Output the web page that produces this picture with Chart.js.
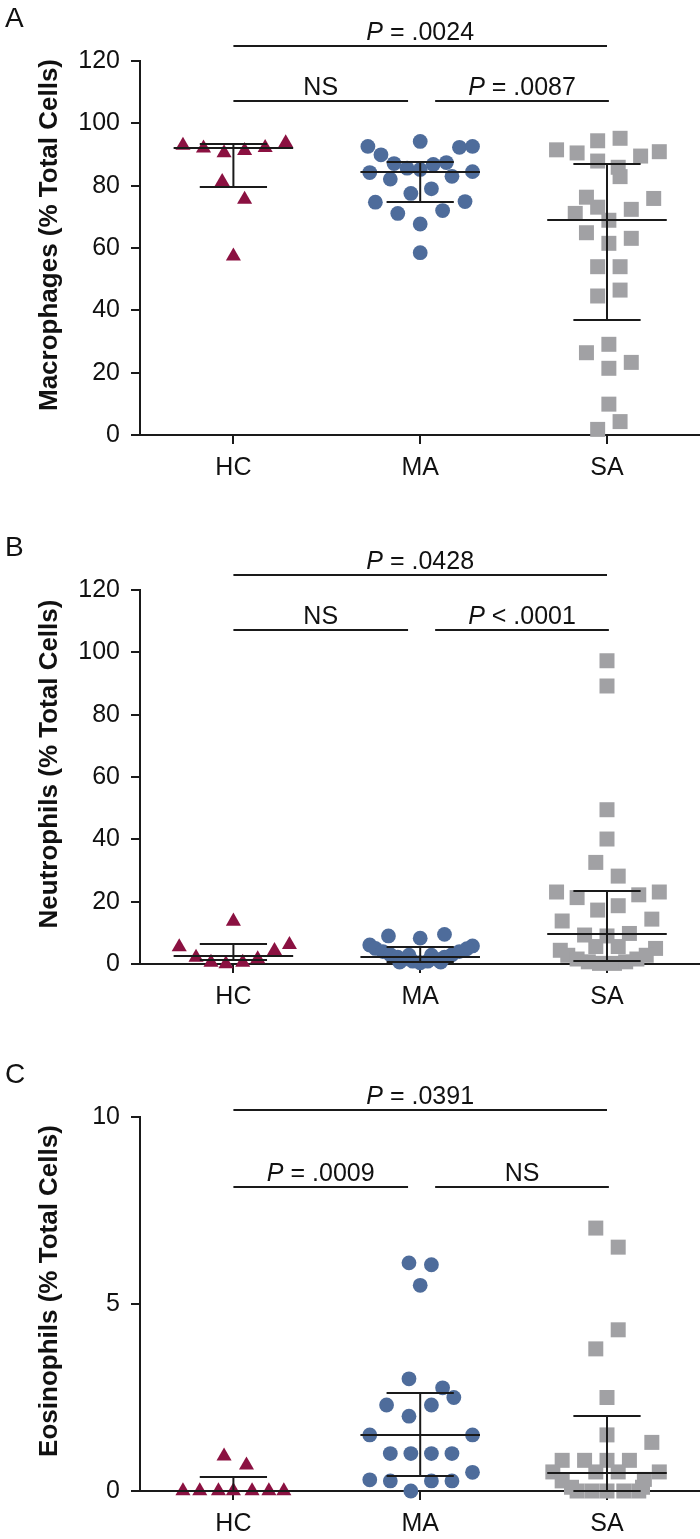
<!DOCTYPE html>
<html>
<head>
<meta charset="utf-8">
<script src="https://cdn.jsdelivr.net/npm/chart.js@4.4.1/dist/chart.umd.min.js"></script>
<style>
html, body { margin: 0; padding: 0; background: #fff; overflow: hidden; }
canvas { position: absolute; left: 0; }
</style>
</head>
<body>
<canvas id="chartA" width="711" height="513" style="top:0px"></canvas>
<canvas id="chartB" width="711" height="513" style="top:529px"></canvas>
<canvas id="chartC" width="711" height="513" style="top:1056px"></canvas>
<script>
const groups = ['HC', 'MA', 'SA'];

// A - macrophages
const macroHC = [92.9, 92.0, 90.5, 91.2, 92.2, 93.7, 81.3, 75.6, 57.4];
const macroHCJit = [-0.27, -0.16, -0.05, 0.06, 0.17, 0.28, -0.06, 0.06, 0.0];
const macroMA = [92.6, 94.2, 92.3, 92.6, 89.9, 87.1, 85.6, 85.2, 86.8, 87.4, 84.2, 84.5, 82.1, 83.0, 79.0, 77.5, 74.7, 74.9, 71.1, 72.0, 67.7, 58.5];
const macroMAJit = [-0.28, 0.0, 0.21, 0.28, -0.21, -0.14, -0.07, 0.0, 0.07, 0.14, -0.27, 0.28, -0.16, 0.17, 0.06, -0.05, -0.24, 0.24, -0.12, 0.12, 0.0, 0.0];
const macroSA = [91.5, 90.5, 94.4, 95.2, 89.5, 90.9, 87.9, 85.9, 82.9, 76.3, 75.9, 73.1, 71.1, 72.4, 68.9, 64.9, 63.1, 61.5, 54.0, 54.0, 44.6, 46.5, 26.4, 29.1, 21.4, 23.3, 9.9, 4.3, 1.8];
const macroSAJit = [-0.27, -0.16, -0.05, 0.07, 0.18, 0.28, -0.05, 0.06, 0.07, -0.11, 0.25, -0.05, -0.17, 0.13, 0.01, -0.11, 0.13, 0.01, -0.05, 0.07, -0.05, 0.07, -0.11, 0.01, 0.01, 0.13, 0.01, 0.07, -0.05];
const macroQ1 = [79.5, 74.9, 36.9];
const macroMed = [92.1, 84.3, 69.0];
const macroQ3 = [93.4, 87.5, 87.0];
const macroTicks = [0, 20, 40, 60, 80, 100, 120];
const macroBrackets = [
    { from: 1, to: 3, level: 124.8, label: 'P = .0024' },
    { from: 1, to: 1.935, level: 107.2, label: 'NS' },
    { from: 2.08, to: 3.01, level: 107.2, label: 'P = .0087' }
];

// B - neutrophils
const neutroHC = [5.5, 13.7, 6.2, 4.3, 2.1, 0.5, 0.0, 0.5, 1.6];
const neutroHCJit = [-0.29, 0.0, 0.3, 0.22, -0.2, -0.12, -0.04, 0.05, 0.13];
const neutroMA = [9.0, 8.3, 9.5, 6.1, 5.8, 5.0, 4.0, 3.0, 2.2, 1.5, 0.9, 0.4, 0.9, 1.5, 2.2, 3.0, 4.0, 4.9, 2.8, 2.8, 0.6, 0.6];
const neutroMAJit = [-0.17, 0.0, 0.13, -0.27, 0.28, -0.24, -0.2, -0.16, -0.12, -0.09, -0.04, 0.0, 0.04, 0.09, 0.13, 0.17, 0.21, 0.25, -0.06, 0.06, -0.11, 0.11];
const neutroSA = [97.3, 89.2, 49.5, 40.1, 32.6, 28.2, 23.1, 21.3, 22.2, 23.1, 17.3, 18.7, 13.8, 14.4, 9.3, 9.0, 9.8, 4.4, 5.0, 5.6, 5.6, 2.8, 1.6, 0.7, 0.2, 0.2, 0.7, 1.6, 2.8];
const neutroSAJit = [0.0, 0.0, 0.0, 0.0, -0.06, 0.06, -0.27, -0.16, 0.17, 0.28, -0.05, 0.06, -0.24, 0.24, -0.12, 0.0, 0.12, -0.25, 0.26, -0.06, 0.06, -0.21, -0.16, -0.1, -0.04, 0.04, 0.1, 0.16, 0.21];
const neutroQ1 = [1.2, 0.7, 1.0];
const neutroMed = [2.7, 2.3, 9.5];
const neutroQ3 = [6.5, 5.6, 23.3];
const neutroTicks = [0, 20, 40, 60, 80, 100, 120];
const neutroBrackets = [
    { from: 1, to: 3, level: 124.8, label: 'P = .0428' },
    { from: 1, to: 1.935, level: 107.1, label: 'NS' },
    { from: 2.08, to: 3.01, level: 107.1, label: 'P < .0001' }
];

// C - eosinophils
const eosHC = [0, 0, 0, 0, 0, 0, 0, 0.93, 0.69];
const eosHCJit = [-0.27, -0.18, -0.08, 0.0, 0.1, 0.19, 0.27, -0.05, 0.07];
const eosMA = [5.5, 6.1, 6.05, 3.0, 2.76, 2.5, 2.3, 2.3, 2.0, 1.5, 1.5, 1.0, 1.0, 1.0, 1.0, 0.5, 0.3, 0.27, 0.27, 0.27, 0.0];
const eosMAJit = [0.0, -0.06, 0.06, -0.06, 0.12, 0.18, -0.18, 0.06, -0.06, -0.27, 0.28, -0.16, -0.05, 0.06, 0.17, 0.28, -0.27, -0.16, 0.06, 0.17, -0.05];
const eosSA = [7.03, 6.52, 4.31, 3.8, 2.5, 1.5, 1.3, 0.82, 0.82, 0.82, 0.82, 0.51, 0.51, 0.51, 0.51, 0.27, 0.31, 0, 0, 0, 0, 0, 0.1, 0.1];
const eosSAJit = [-0.06, 0.06, 0.06, -0.06, 0.0, 0.0, 0.24, -0.24, -0.12, 0.0, 0.12, -0.29, -0.06, 0.06, 0.28, -0.24, 0.2, -0.16, -0.08, 0.0, 0.09, 0.17, -0.19, 0.19];
const eosQ1 = [0, 0.4, 0];
const eosMed = [0, 1.5, 0.49];
const eosQ3 = [0.375, 2.63, 2.01];
const eosTicks = [0, 5, 10];
const eosBrackets = [
    { from: 1, to: 3, level: 10.19, label: 'P = .0391' },
    { from: 1, to: 1.935, level: 8.12, label: 'P = .0009' },
    { from: 2.08, to: 3.01, level: 8.12, label: 'NS' }
];

const FONT = '"Liberation Sans", Arial, Helvetica, sans-serif';
const INK = '#1a1a1a';

function toPoints(values, jitter, g) {
    return values.map((v, i) => ({ x: g + 1 + jitter[i], y: v }));
}

// draws median / IQR bars, significance brackets, y title and the panel letter
const annotPlugin = {
    id: 'annot',
    afterDatasetsDraw(chart, args, opts) {
        const ctx = chart.ctx;
        const xs = chart.scales.x, ys = chart.scales.y;
        ctx.save();
        ctx.strokeStyle = INK;
        ctx.lineWidth = 2;
        const hline = (x1, x2, v) => {
            const y = Math.round(ys.getPixelForValue(v));
            ctx.beginPath();
            ctx.moveTo(xs.getPixelForValue(x1), y);
            ctx.lineTo(xs.getPixelForValue(x2), y);
            ctx.stroke();
        };
        opts.med.forEach((m, i) => {
            const c = i + 1;
            ctx.beginPath();
            ctx.moveTo(xs.getPixelForValue(c), ys.getPixelForValue(opts.q1[i]));
            ctx.lineTo(xs.getPixelForValue(c), ys.getPixelForValue(opts.q3[i]));
            ctx.stroke();
            hline(c - 0.32, c + 0.32, m);
            hline(c - 0.18, c + 0.18, opts.q1[i]);
            hline(c - 0.18, c + 0.18, opts.q3[i]);
        });

        ctx.fillStyle = '#111';
        ctx.textBaseline = 'middle';
        opts.brackets.forEach(b => {
            hline(b.from, b.to, b.level);
            const y = ys.getPixelForValue(b.level) - 13;
            const cx = (xs.getPixelForValue(b.from) + xs.getPixelForValue(b.to)) / 2;
            if (b.label.startsWith('P ')) {
                const rest = b.label.slice(1);
                ctx.font = 'italic 25px ' + FONT;
                const w1 = ctx.measureText('P').width;
                ctx.font = '25px ' + FONT;
                const w2 = ctx.measureText(rest).width;
                const x = cx - (w1 + w2) / 2;
                ctx.textAlign = 'left';
                ctx.font = 'italic 25px ' + FONT;
                ctx.fillText('P', x, y);
                ctx.font = '25px ' + FONT;
                ctx.fillText(rest, x + w1, y);
            } else {
                ctx.font = '25px ' + FONT;
                ctx.textAlign = 'center';
                ctx.fillText(b.label, cx, y);
            }
        });

        // y axis title, sits a little above the middle of the plot
        const area = chart.chartArea;
        ctx.save();
        ctx.translate(50, (area.top + area.bottom) / 2 - 13);
        ctx.rotate(-Math.PI / 2);
        ctx.font = 'bold 26px ' + FONT;
        ctx.textAlign = 'center';
        ctx.fillText(opts.title, 0, 0);
        ctx.restore();

        ctx.font = '28px ' + FONT;
        ctx.textAlign = 'left';
        ctx.fillText(opts.letter, 5, 19);
        ctx.restore();
    }
};

function makePanel(id, cfg) {
    const ctx = document.getElementById(id).getContext('2d');
    return new Chart(ctx, {
        type: 'scatter',
        data: {
            datasets: [
                { data: toPoints(cfg.hc, cfg.hcJit, 0), pointStyle: 'triangle', pointRadius: 8.7, backgroundColor: '#8B1141', borderWidth: 0, clip: false },
                { data: toPoints(cfg.ma, cfg.maJit, 1), pointStyle: 'circle', pointRadius: 7.4, backgroundColor: '#4E6C9B', borderWidth: 0, clip: false },
                { data: toPoints(cfg.sa, cfg.saJit, 2), pointStyle: 'rect', pointRadius: 10.6, backgroundColor: '#A1A1A4', borderWidth: 0, clip: false }
            ]
        },
        options: {
            responsive: false,
            animation: false,
            events: [],
            layout: { padding: { top: 61, left: 0, right: 0, bottom: 0 } },
            plugins: {
                legend: { display: false },
                tooltip: { enabled: false },
                annot: { letter: cfg.letter, title: cfg.title, q1: cfg.q1, med: cfg.med, q3: cfg.q3, brackets: cfg.brackets }
            },
            scales: {
                x: {
                    type: 'linear',
                    min: 0.5,
                    max: 3.5,
                    afterBuildTicks: s => { s.ticks = groups.map((g, i) => ({ value: i + 1 })); },
                    afterFit: s => { s.height = 78; s.paddingLeft = 0; s.paddingRight = 0; },
                    ticks: {
                        callback: v => groups[v - 1],
                        color: '#111',
                        font: { family: FONT, size: 25 },
                        padding: 9,
                        maxRotation: 0
                    },
                    grid: { drawOnChartArea: false, tickLength: 9, tickColor: INK, lineWidth: 2 },
                    border: { color: INK, width: 2 }
                },
                y: {
                    min: cfg.ticks[0],
                    max: cfg.ticks[cfg.ticks.length - 1],
                    afterBuildTicks: s => { s.ticks = cfg.ticks.map(v => ({ value: v })); },
                    afterFit: s => { s.width = 140; },
                    ticks: {
                        color: '#111',
                        font: { family: FONT, size: 25 },
                        padding: 11
                    },
                    grid: { drawOnChartArea: false, tickLength: 9, tickColor: INK, lineWidth: 2 },
                    border: { color: INK, width: 2 }
                }
            }
        },
        plugins: [annotPlugin]
    });
}

makePanel('chartA', {
    letter: 'A', title: 'Macrophages (% Total Cells)', ticks: macroTicks,
    hc: macroHC, hcJit: macroHCJit, ma: macroMA, maJit: macroMAJit, sa: macroSA, saJit: macroSAJit,
    q1: macroQ1, med: macroMed, q3: macroQ3, brackets: macroBrackets
});
makePanel('chartB', {
    letter: 'B', title: 'Neutrophils (% Total Cells)', ticks: neutroTicks,
    hc: neutroHC, hcJit: neutroHCJit, ma: neutroMA, maJit: neutroMAJit, sa: neutroSA, saJit: neutroSAJit,
    q1: neutroQ1, med: neutroMed, q3: neutroQ3, brackets: neutroBrackets
});
makePanel('chartC', {
    letter: 'C', title: 'Eosinophils (% Total Cells)', ticks: eosTicks,
    hc: eosHC, hcJit: eosHCJit, ma: eosMA, maJit: eosMAJit, sa: eosSA, saJit: eosSAJit,
    q1: eosQ1, med: eosMed, q3: eosQ3, brackets: eosBrackets
});
</script>
</body>
</html>
